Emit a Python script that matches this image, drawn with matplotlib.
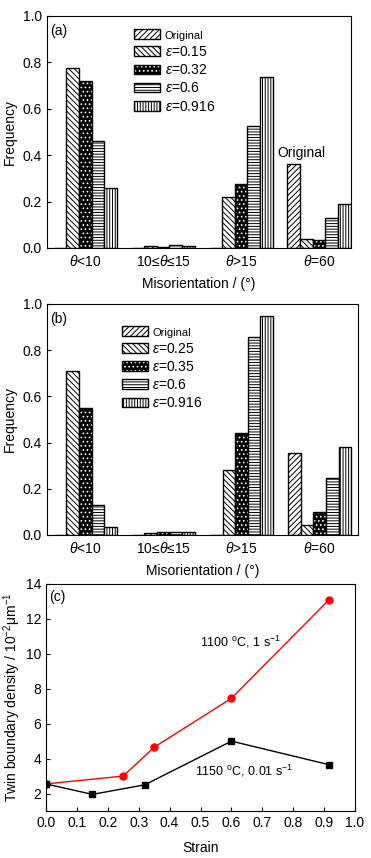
import matplotlib
matplotlib.use("Agg")
import matplotlib.pyplot as plt
from matplotlib.patches import Patch
from matplotlib.legend_handler import HandlerTuple
import numpy as np

plt.rcParams['font.family'] = ['Liberation Sans', 'DejaVu Sans']
plt.rcParams['mathtext.fontset'] = 'custom'
plt.rcParams['mathtext.rm'] = 'Liberation Sans'
plt.rcParams['mathtext.it'] = 'Liberation Sans:italic'
plt.rcParams['hatch.linewidth'] = 0.7

categories = [r'$\theta$<10', r'10≤$\theta$≤15', r'$\theta$>15', r'$\theta$=60']

# panel (a)
a_labels = ['Original', r'$\varepsilon$=0.15', r'$\varepsilon$=0.32', r'$\varepsilon$=0.6', r'$\varepsilon$=0.916']
a_original = [0.0, 0.0, 0.0, 0.36]
a_015 = [0.775, 0.008, 0.22, 0.04]
a_032 = [0.72, 0.004, 0.275, 0.035]
a_06 = [0.46, 0.013, 0.525, 0.13]
a_0916 = [0.26, 0.008, 0.735, 0.19]

# panel (b)
b_labels = ['Original', r'$\varepsilon$=0.25', r'$\varepsilon$=0.35', r'$\varepsilon$=0.6', r'$\varepsilon$=0.916']
b_original = [0.0, 0.0, 0.0, 0.355]
b_025 = [0.71, 0.008, 0.28, 0.045]
b_035 = [0.55, 0.012, 0.44, 0.10]
b_06 = [0.13, 0.012, 0.855, 0.245]
b_0916 = [0.035, 0.012, 0.95, 0.38]

# panel (c)
strain_1150 = [0.0, 0.15, 0.32, 0.6, 0.916]
density_1150 = [2.55, 1.95, 2.5, 5.0, 3.65]
strain_1100 = [0.0, 0.25, 0.35, 0.6, 0.916]
density_1100 = [2.55, 3.0, 4.65, 7.45, 13.1]

hatches = ['//////', '\\\\\\\\\\\\', '....', '------', '||||||']
width = 0.162


def bar_panel(ax, series, labels, xlim, legend_anchor, tag):
    x = np.arange(len(categories))
    handles = []
    for i, (vals, h) in enumerate(zip(series, hatches)):
        pos = x + (i - 2) * width
        if h == '....':
            # black bar with white dots
            ax.bar(pos, vals, width, color='black', edgecolor='white', hatch=h, linewidth=0)
            ax.bar(pos, vals, width, facecolor='none', edgecolor='black', linewidth=1)
            handles.append((Patch(facecolor='black', edgecolor='white', hatch=h, linewidth=0),
                            Patch(facecolor='none', edgecolor='black', linewidth=1)))
        else:
            ax.bar(pos, vals, width, facecolor='white', edgecolor='black', hatch=h, linewidth=1)
            handles.append(Patch(facecolor='white', edgecolor='black', hatch=h, linewidth=1))
    ax.set_xlim(*xlim)
    ax.set_ylim(0, 1.0)
    ax.set_xticks(x)
    ax.set_xticklabels(categories)
    ax.set_yticks(np.arange(0, 1.01, 0.2))
    ax.set_yticklabels(['%.1f' % v for v in np.arange(0, 1.01, 0.2)])
    ax.tick_params(axis='x', length=0, labelsize=10, pad=4)
    ax.tick_params(axis='y', direction='in', length=3, labelsize=10)
    ax.set_ylabel('Frequency', fontsize=10, labelpad=4)
    ax.set_xlabel('Misorientation / (°)', fontsize=10, labelpad=6)
    ax.text(0.01, 0.965, tag, transform=ax.transAxes, fontsize=10, va='top', ha='left')
    leg = ax.legend(handles, labels, handler_map={tuple: HandlerTuple(ndivide=1)},
                    loc='upper left', bbox_to_anchor=legend_anchor, frameon=False,
                    fontsize=10, handlelength=1.9, handleheight=0.7, labelspacing=0.3,
                    handletextpad=0.3, borderpad=0, borderaxespad=0)
    leg.get_texts()[0].set_fontsize(8)
    return ax


fig = plt.figure(figsize=(3.71, 8.58), dpi=100)

ax1 = fig.add_axes([0.1267, 0.711, 0.8194, 0.2704])
bar_panel(ax1, [a_original, a_015, a_032, a_06, a_0916], a_labels, (-0.49, 3.41), (0.286, 0.943), '(a)')
ax1.text(2.78, 0.41, 'Original', fontsize=10, ha='center', va='center')

ax2 = fig.add_axes([0.1267, 0.3765, 0.838, 0.2692])
bar_panel(ax2, [b_original, b_025, b_035, b_06, b_0916], b_labels, (-0.49, 3.49), (0.241, 0.905), '(b)')

ax3 = fig.add_axes([0.124, 0.0548, 0.833, 0.2646])
ax3.plot(strain_1100, density_1100, color='red', marker='o', markersize=5, linewidth=1)
ax3.plot(strain_1150, density_1150, color='black', marker='s', markersize=5, linewidth=1)
ax3.set_xlim(0, 1.0)
ax3.set_ylim(1, 14)
ax3.set_xticks(np.arange(0, 1.01, 0.1))
ax3.set_xticklabels(['%.1f' % v for v in np.arange(0, 1.01, 0.1)])
ax3.set_yticks(np.arange(2, 15, 2))
ax3.tick_params(direction='in', length=3, labelsize=10)
ax3.set_xlabel('Strain', fontsize=10, labelpad=8)
ax3.set_ylabel(r'Twin boundary density / 10$^{-2}$$\mathrm{\mu}$m$^{-1}$', fontsize=10, labelpad=2)
ax3.text(0.01, 0.975, '(c)', transform=ax3.transAxes, fontsize=10, va='top', ha='left')
ax3.text(0.63, 10.7, r'1100 $^{\mathrm{o}}$C, 1 s$^{-1}$', fontsize=9, ha='center', va='center')
ax3.text(0.64, 3.3, r'1150 $^{\mathrm{o}}$C, 0.01 s$^{-1}$', fontsize=9, ha='center', va='center')

fig.savefig('out.png', dpi=100)
